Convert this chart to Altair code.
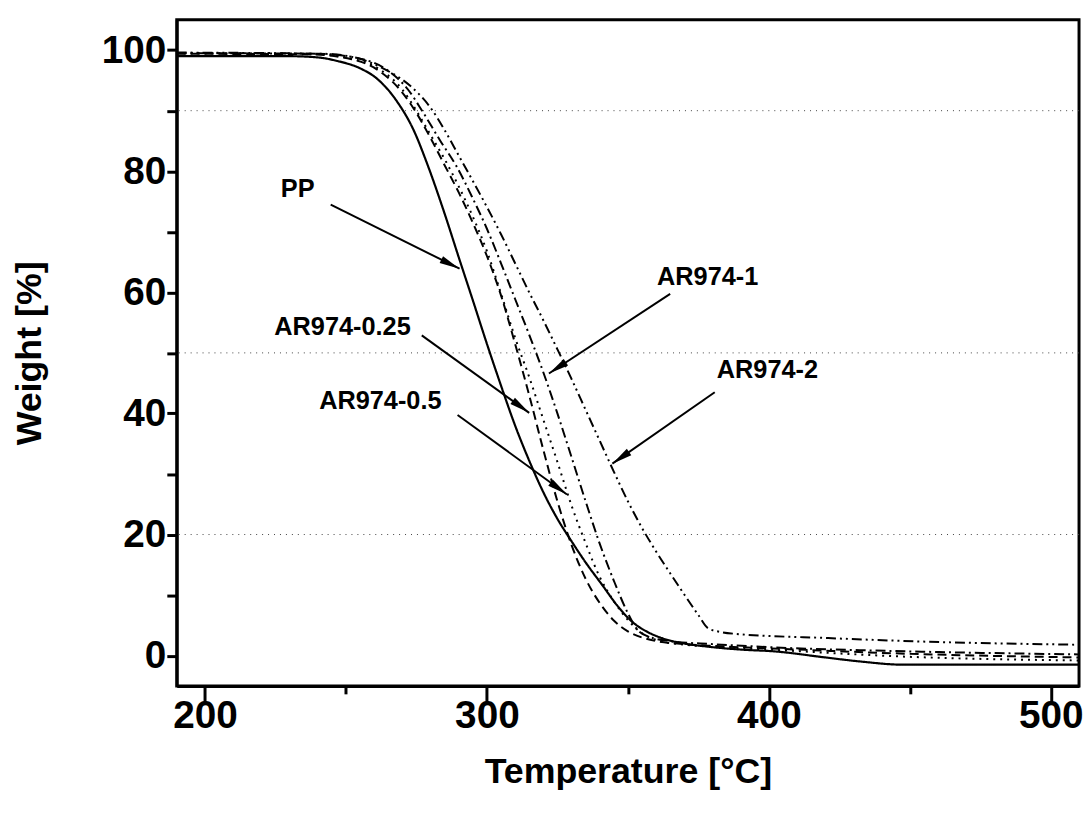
import math
import altair as alt
import pandas as pd

# ---------------- data ----------------
T_PP = [190, 230, 240, 247, 255, 261, 268, 274, 279, 285, 290, 295, 300, 305, 310, 315, 320, 325, 330,
        335, 341, 346, 351.5, 357, 362, 370, 378, 390, 402, 420, 432, 448, 470, 510]
W_PP = [99.0, 99.0, 98.8, 98.2, 97.0, 95.3, 91.6, 86.8, 81.0, 73.0, 65.8, 58.7, 51.5, 44.6, 38.0, 32.2,
        27.0, 22.6, 18.9, 15.4, 11.6, 8.4, 5.6, 3.9, 2.9, 2.0, 1.5, 1.0, 0.7, -0.3, -0.95, -1.5, -1.5, -1.5]

T_025 = [190, 237, 252, 262, 270, 274.5, 280, 285, 290, 295, 300, 305, 310, 315, 320, 325, 330, 335,
         340, 345, 350, 355, 360, 370, 380, 400, 450, 510]
W_025 = [99.4, 99.3, 98.5, 96.5, 93.0, 90.0, 85.5, 81.0, 76.5, 71.5, 66.0, 59.5, 51.5, 43.0, 34.0, 25.5,
         18.3, 12.7, 8.7, 5.8, 4.0, 3.0, 2.4, 1.9, 1.6, 1.2, 0.3, -0.3]

T_05 = [190, 237, 252, 262, 270, 275, 280, 285, 290, 295, 300, 305, 310, 315, 320, 325, 330, 335, 340,
        345, 350, 355, 360, 370, 380, 400, 450, 510]
W_05 = [99.5, 99.4, 98.6, 96.8, 93.5, 90.0, 86.0, 82.0, 77.5, 72.5, 66.8, 59.8, 52.5, 46.0, 39.0, 32.0,
        24.8, 18.6, 13.0, 9.0, 5.9, 3.7, 2.6, 1.8, 1.5, 1.0, -0.2, -0.8]

T_1 = [190, 240, 255, 265, 272, 277, 283.5, 289, 295, 300, 305, 310, 315, 320, 325, 330, 335, 340, 345,
       350, 353, 357, 365, 380, 400, 450, 510]
W_1 = [99.5, 99.4, 98.6, 96.6, 93.5, 90.0, 85.0, 81.0, 75.5, 70.5, 64.8, 58.9, 53.0, 46.8, 40.0, 32.8,
       25.5, 18.5, 12.4, 7.0, 4.5, 3.2, 2.4, 1.9, 1.4, 0.7, 0.2]

T_2 = [190, 242, 253, 263.5, 272.8, 280, 285, 290, 295, 300, 305, 310, 315, 320, 325, 330, 335, 340,
       345, 350, 355, 360, 365, 370, 375, 378.5, 383, 388, 421, 456, 510]
W_2 = [99.6, 99.4, 98.8, 96.9, 94.1, 90.5, 86.8, 82.6, 78.4, 74.1, 69.6, 64.8, 60.0, 55.4, 50.6, 45.7,
       40.6, 35.5, 30.4, 25.5, 21.1, 17.2, 13.6, 10.1, 6.7, 4.5, 3.9, 3.6, 2.9, 2.3, 1.8]

SERIES = ["PP", "AR974-0.25", "AR974-0.5", "AR974-1", "AR974-2"]
CURVES = [(T_PP, W_PP), (T_025, W_025), (T_05, W_05), (T_1, W_1), (T_2, W_2)]
DASHES = [[1, 0], [9, 5], [2, 5], [10, 4, 2, 4], [10, 4, 2, 4, 2, 4]]

GRID_Y = [90, 50, 20]

# annotations: label position, arrow start, arrow tip (data coordinates)
LABEL_TEXT = ["PP", "AR974-0.25", "AR974-0.5", "AR974-1", "AR974-2"]
LABEL_X = [232.9, 248.8, 262.2, 378.3, 399.5]
LABEL_Y = [77.0, 54.2, 42.0, 62.5, 47.1]
ARROW_X0 = [244.6, 276.9, 289.6, 365.0, 380.8]
ARROW_Y0 = [74.5, 52.9, 39.75, 59.75, 43.5]
ARROW_X1 = [290.3, 315.0, 328.4, 322.0, 344.5]
ARROW_Y1 = [63.9, 40.1, 26.6, 46.6, 31.7]

X_MAJOR = [200, 300, 400, 500]
X_MINOR = [250, 350, 450]
Y_MAJOR = [0, 20, 40, 60, 80, 100]
Y_MINOR = [10, 30, 50, 70, 90]

# ---------------- layout ----------------
W, H = 909, 671
XDOM = [190, 510]
YDOM = [-5, 105]
FONT = "Liberation Sans"
TICK_FS = 39

xs = alt.Scale(domain=XDOM, nice=False, zero=False)
ys = alt.Scale(domain=YDOM, nice=False, zero=False)

x_major = alt.Axis(
    orient="bottom", values=X_MAJOR, title="Temperature [°C]", grid=False,
    domainColor="black", domainWidth=3,
    tickColor="black", tickWidth=3, tickSize=16,
    labelFont=FONT, labelFontSize=TICK_FS, labelFontWeight="bold", labelColor="black",
    labelPadding=-5,
    titleFont=FONT, titleFontSize=36, titleFontWeight="bold", titleColor="black",
    titlePadding=19,
)
x_minor = alt.Axis(
    orient="bottom", values=X_MINOR, title=None, labels=False, grid=False, domain=False,
    tickColor="black", tickWidth=3, tickSize=8,
)
y_major = alt.Axis(
    orient="left", values=Y_MAJOR, title="Weight [%]", grid=False,
    domainColor="black", domainWidth=3,
    tickColor="black", tickWidth=3, tickSize=10,
    labelFont=FONT, labelFontSize=TICK_FS, labelFontWeight="bold", labelColor="black",
    labelPadding=1,
    titleFont=FONT, titleFontSize=36, titleFontWeight="bold", titleColor="black",
    titlePadding=53,
)
y_minor = alt.Axis(
    orient="left", values=Y_MINOR, title=None, labels=False, grid=False, domain=False,
    tickColor="black", tickWidth=3, tickSize=10,
)

layers = []

# axis carrier layers (invisible points on the PP data)
pp_df = pd.DataFrame({"T": T_PP, "W": W_PP})
layers.append(
    alt.Chart(pp_df).mark_point(opacity=0).encode(
        x=alt.X("T:Q", scale=xs, axis=x_major), y=alt.Y("W:Q", scale=ys, axis=y_major)
    )
)
layers.append(
    alt.Chart(pp_df).mark_point(opacity=0).encode(
        x=alt.X("T:Q", scale=xs, axis=x_minor), y=alt.Y("W:Q", scale=ys, axis=y_minor)
    )
)

grid_df = pd.DataFrame({"y": GRID_Y})
layers.append(
    alt.Chart(grid_df).mark_rule(color="#444444", strokeWidth=1, strokeDash=[1, 5]).encode(
        y=alt.Y("y:Q", scale=ys, axis=None)
    )
)

for i, (name, (tt, ww)) in enumerate(zip(SERIES, CURVES)):
    df = pd.DataFrame({"T": tt, "W": ww})
    layers.append(
        alt.Chart(df).mark_line(
            color="black", strokeWidth=2.2 if i == 0 else 2, strokeDash=DASHES[i],
            interpolate="monotone", clip=True,
        ).encode(
            x=alt.X("T:Q", scale=xs, axis=None),
            y=alt.Y("W:Q", scale=ys, axis=None),
        )
    )

# arrows
pxu_x = W / (XDOM[1] - XDOM[0])
pxu_y = H / (YDOM[1] - YDOM[0])
angles = []
for x0, y0, x1, y1 in zip(ARROW_X0, ARROW_Y0, ARROW_X1, ARROW_Y1):
    dx = (x1 - x0) * pxu_x
    dy = -(y1 - y0) * pxu_y
    angles.append(math.degrees(math.atan2(dx, -dy)) % 360)

arr_df = pd.DataFrame({"x0": ARROW_X0, "y0": ARROW_Y0, "x1": ARROW_X1, "y1": ARROW_Y1, "ang": angles})
layers.append(
    alt.Chart(arr_df).mark_rule(color="black", strokeWidth=2).encode(
        x=alt.X("x0:Q", scale=xs, axis=None), y=alt.Y("y0:Q", scale=ys, axis=None),
        x2="x1:Q", y2="y1:Q",
    )
)
layers.append(
    alt.Chart(arr_df).mark_point(
        shape="M0,0 L0.38,2 L-0.38,2 Z", filled=True, size=420, color="black", opacity=1, strokeWidth=0
    ).encode(
        x=alt.X("x1:Q", scale=xs, axis=None), y=alt.Y("y1:Q", scale=ys, axis=None),
        angle=alt.Angle("ang:Q", scale=None),
    )
)

lab_df = pd.DataFrame({"x": LABEL_X, "y": LABEL_Y, "t": LABEL_TEXT})
layers.append(
    alt.Chart(lab_df).mark_text(
        font=FONT, fontSize=25.5, fontWeight="bold", color="black", align="center", baseline="middle"
    ).encode(
        x=alt.X("x:Q", scale=xs, axis=None), y=alt.Y("y:Q", scale=ys, axis=None), text="t:N"
    )
)

chart = alt.layer(*layers).resolve_axis(x="independent", y="independent").properties(
    width=W, height=H,
    autosize=alt.AutoSizeParams(type="none"),
    padding={"left": 170, "top": 9, "right": 4, "bottom": 112},
    background="white",
).configure_view(stroke="black", strokeWidth=3)

chart.save("out.html", embed_options={"renderer": "svg", "actions": False})
